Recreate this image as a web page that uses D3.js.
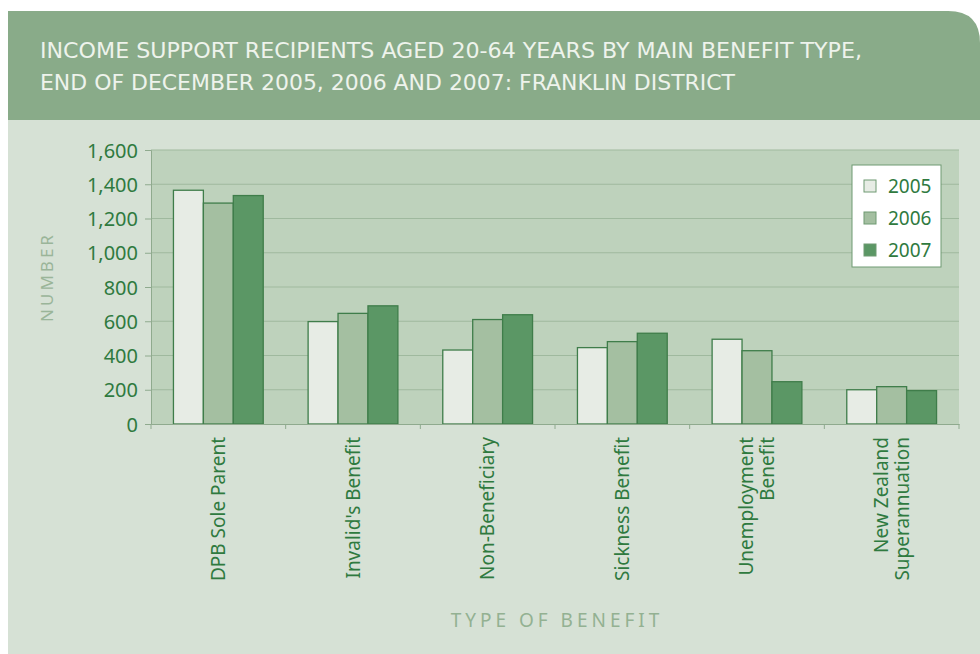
<!DOCTYPE html>
<html>
<head>
<meta charset="utf-8">
<script src="https://cdn.jsdelivr.net/npm/d3@7"></script>
<style>
  body { margin: 0; background: #ffffff; }
  svg { display: block; }
  text { font-family: "Noto Sans", "DejaVu Sans", sans-serif; }
</style>
</head>
<body>
<svg width="980" height="654"></svg>
<script>
const categories = [
    ["DPB Sole Parent"],
    ["Invalid's Benefit"],
    ["Non-Beneficiary"],
    ["Sickness Benefit"],
    ["Unemployment", "Benefit"],
    ["New Zealand", "Superannuation"]
];
const years = ["2005", "2006", "2007"];
const values2005 = [1365, 598, 432, 446, 495, 200];
const values2006 = [1290, 646, 610, 481, 428, 218];
const values2007 = [1334, 690, 638, 530, 247, 195];
const yTicks = [0, 200, 400, 600, 800, 1000, 1200, 1400, 1600];
const titleLines = [
    "INCOME SUPPORT RECIPIENTS AGED 20-64 YEARS BY MAIN BENEFIT TYPE,",
    "END OF DECEMBER 2005, 2006 AND 2007: FRANKLIN DISTRICT"
];

const svg = d3.select('svg');
const width = +svg.attr('width');
const height = +svg.attr('height');

const colors = ['#e7ece5', '#a4bfa1', '#5b9765'];
const outline = '#3f7d4a';
const tickColor = '#2f7a3f';

// panel background and header band
svg.append('rect')
    .attr('x', 8).attr('y', 118)
    .attr('width', width - 8).attr('height', height - 118)
    .attr('fill', '#d6e1d5');

svg.append('path')
    .attr('d', `M8,11 H${width - 32} Q${width},11 ${width},43 V120 H8 Z`)
    .attr('fill', '#89ab89');

svg.selectAll('.title')
    .data(titleLines)
    .enter()
    .append('text')
    .attr('class', 'title')
    .attr('x', 40)
    .attr('y', (d, i) => 58 + i * 32)
    .attr('fill', '#eef3ec')
    .style('font-family', '"DejaVu Sans Condensed", "DejaVu Sans", sans-serif')
    .style('font-size', '21px')
    .attr('textLength', (d, i) => i === 0 ? 822 : 695)
    .attr('lengthAdjust', 'spacingAndGlyphs')
    .text(d => d);

const margin = { top: 150, right: 21, bottom: 230, left: 151 };
const innerWidth = width - margin.left - margin.right;
const innerHeight = height - margin.top - margin.bottom;

const data = categories.map((c, i) => ({
    key: i,
    label: c,
    values: [values2005[i], values2006[i], values2007[i]]
}));

const xScale = d3.scaleBand()
    .domain(data.map(d => d.key))
    .range([0, innerWidth])
    .paddingInner(0)
    .paddingOuter(0);

const xInner = d3.scaleBand()
    .domain(years)
    .range([xScale.bandwidth() / 6, xScale.bandwidth() * 5 / 6]);

const yScale = d3.scaleLinear()
    .domain([0, 1600])
    .range([innerHeight, 0]);

const g = svg.append('g')
    .attr('transform', `translate(${margin.left},${margin.top})`);

g.append('rect')
    .attr('width', innerWidth)
    .attr('height', innerHeight)
    .attr('fill', '#bed2bc');

// gridlines
g.append('g')
    .selectAll('line')
    .data(yTicks.slice(1))
    .enter()
    .append('line')
    .attr('x1', 0).attr('x2', innerWidth)
    .attr('y1', d => yScale(d)).attr('y2', d => yScale(d))
    .attr('stroke', '#9fb99e')
    .attr('stroke-width', 1.2);

// bars
const groups = g.selectAll('.group')
    .data(data)
    .enter()
    .append('g')
    .attr('class', 'group')
    .attr('transform', d => `translate(${xScale(d.key)},0)`);

groups.selectAll('rect')
    .data(d => d.values.map((v, j) => ({ year: years[j], value: v, j })))
    .enter()
    .append('rect')
    .attr('x', d => xInner(d.year))
    .attr('y', d => yScale(d.value))
    .attr('width', xInner.bandwidth())
    .attr('height', d => innerHeight - yScale(d.value))
    .attr('fill', d => colors[d.j])
    .attr('stroke', outline)
    .attr('stroke-width', 1.3);

// y axis
const yAxis = g.append('g')
    .call(d3.axisLeft(yScale).tickValues(yTicks).tickFormat(d3.format(',')).tickSize(6).tickPadding(7));
yAxis.select('.domain').attr('stroke', '#8faa8e');
yAxis.selectAll('.tick line').attr('stroke', '#8faa8e');
yAxis.selectAll('text')
    .attr('fill', tickColor)
    .style('font-size', '20px')
    .attr('dy', '0.35em');

// x axis
const xAxis = g.append('g')
    .attr('transform', `translate(0,${innerHeight})`)
    .call(d3.axisBottom(xScale).tickSize(0).tickFormat(''));
xAxis.select('.domain').attr('stroke', '#8faa8e');

xAxis.selectAll('.sep')
    .data(d3.range(data.length + 1))
    .enter()
    .append('line')
    .attr('x1', d => d * xScale.step())
    .attr('x2', d => d * xScale.step())
    .attr('y1', 0).attr('y2', 5)
    .attr('stroke', '#8faa8e');

const xLabels = g.append('g')
    .selectAll('text')
    .data(data)
    .enter()
    .append('text')
    .attr('transform', d => `translate(${xScale(d.key) + xScale.bandwidth() / 2},${innerHeight + 13}) rotate(-90)`)
    .attr('text-anchor', 'end')
    .attr('fill', tickColor)
    .style('font-size', '19px');

xLabels.selectAll('tspan')
    .data(d => d.label.map((t, i) => ({ t, i, n: d.label.length })))
    .enter()
    .append('tspan')
    .attr('x', 0)
    .attr('y', d => (d.i - (d.n - 1) / 2) * 21)
    .attr('dy', '0.35em')
    .text(d => d.t);

// axis titles
svg.append('text')
    .attr('transform', `translate(53,277) rotate(-90)`)
    .attr('text-anchor', 'middle')
    .attr('fill', '#9ab599')
    .style('font-size', '17px')
    .style('letter-spacing', '3px')
    .text('NUMBER');

svg.append('text')
    .attr('x', 557)
    .attr('y', 627)
    .attr('text-anchor', 'middle')
    .attr('fill', '#93b192')
    .style('font-size', '19px')
    .style('letter-spacing', '4px')
    .text('TYPE OF BENEFIT');

// legend
const legend = svg.append('g')
    .attr('transform', 'translate(852,165)');
legend.append('rect')
    .attr('width', 89).attr('height', 102)
    .attr('fill', '#ffffff')
    .attr('stroke', '#6f9a72')
    .attr('stroke-width', 1);
const items = legend.selectAll('.item')
    .data(years)
    .enter()
    .append('g')
    .attr('transform', (d, i) => `translate(12,${21 + i * 32})`);
items.append('rect')
    .attr('x', 0).attr('y', -6)
    .attr('width', 12).attr('height', 12)
    .attr('fill', (d, i) => colors[i])
    .attr('stroke', '#6f9a72');
items.append('text')
    .attr('x', 24)
    .attr('dy', '0.35em')
    .attr('fill', tickColor)
    .style('font-size', '19px')
    .text(d => d);
</script>
</body>
</html>
